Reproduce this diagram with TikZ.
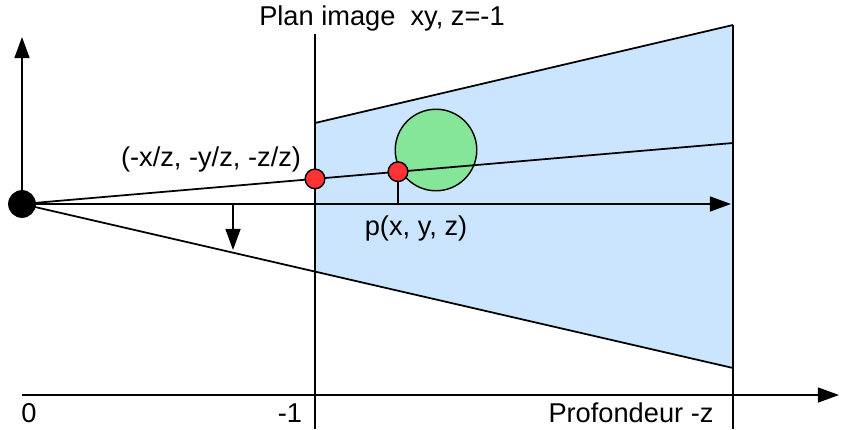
\documentclass[tikz,border=0pt]{standalone}
\usepackage{fontspec}
\setmainfont{Liberation Sans}
\usetikzlibrary{arrows.meta,calc}
\definecolor{frustblue}{RGB}{204,229,255}
\definecolor{spheregreen}{RGB}{133,229,153}
\definecolor{pointred}{RGB}{255,51,51}

\begin{document}
\begin{tikzpicture}[x=0.02cm,y=-0.02cm,line width=1pt,
    >={Triangle[length=12pt,width=8.5pt]},
    every node/.style={font=\fontsize{15.5}{18}\selectfont,inner sep=0pt},
    reddot/.style={fill=pointred,draw=black,line width=0.8pt}]
    \useasboundingbox (0,0) rectangle (841,429);

    % Key points
    \coordinate (O) at (22,204);
    \coordinate (yTip) at (22,37);
    \coordinate (zTip) at (731,204);
    \coordinate (nearTop) at (315,123);
    \coordinate (nearBot) at (315,272);
    \coordinate (farTop) at (733,25);
    \coordinate (farBot) at (733,368);
    \coordinate (proj) at (315,178.9);
    \coordinate (P) at (398,171.7);
    \coordinate (rayEnd) at (733,143);
    \coordinate (Pfoot) at (398,204);

    % Frustum
    \fill[frustblue] (nearTop) -- (farTop) -- (farBot) -- (nearBot) -- cycle;
    \draw (nearTop) -- (farTop);
    \draw (O) -- (farBot);

    % Sphere
    \draw[fill=spheregreen,line width=0.8pt] (436,150) circle (23.2pt);

    % Planes
    \draw (315,34) -- (315,429);
    \draw (733,25) -- (733,429);

    % Axes
    \draw[->] (O) -- (yTip);
    \draw[->] (O) -- (zTip);
    \draw[->] (22,395) -- (839,395);
    \draw[->] (233,204) -- (233,250);

    % Projection ray
    \draw (O) -- (rayEnd);
    \draw (P) -- (Pfoot);
    \fill (O) circle (7.9pt);
    \draw[reddot] (proj) circle (5.6pt);
    \draw[reddot] (P) circle (5.6pt);

    % Labels
    \node (planLbl) at (382,18) {Plan image\ \ xy, z=-1};
    \node (projLbl) at (211,159) {(-x/z, -y/z, -z/z)};
    \node (pLbl) at (416,228) {p(x, y, z)};
    \node[anchor=base] (zeroLbl) at (29,422) {0};
    \node[anchor=base] (oneLbl) at (290,422) {-1};
    \node[anchor=base] (depthLbl) at (631,422) {Profondeur -z};
\end{tikzpicture}
\end{document}
